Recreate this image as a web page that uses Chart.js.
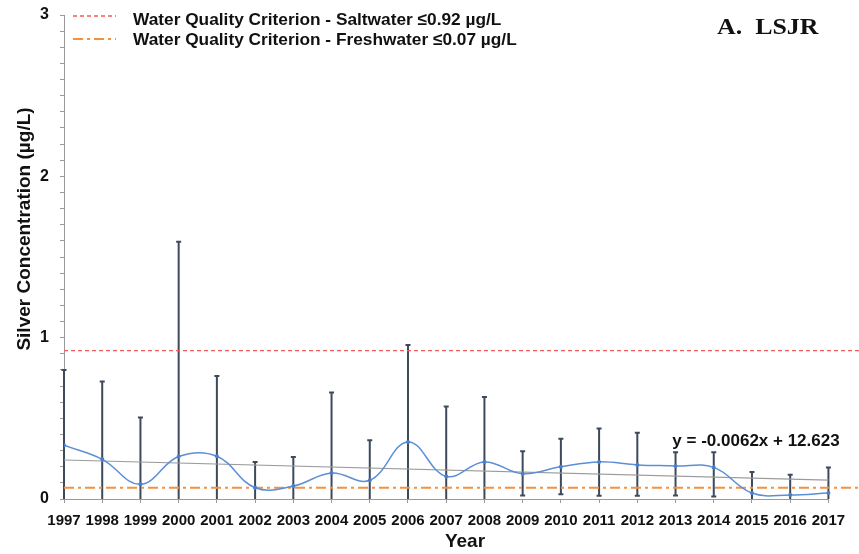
<!DOCTYPE html>
<html>
<head>
<meta charset="utf-8">
<script src="https://cdn.jsdelivr.net/npm/chart.js@4"></script>
<style>
  html, body { margin: 0; padding: 0; background: #fff; }
  canvas { display: block; }
</style>
</head>
<body>
<canvas id="chart" width="859" height="554"></canvas>
<script>
// Annual silver concentrations, Lower St. Johns River (µg/L)
const years = [1997, 1998, 1999, 2000, 2001, 2002, 2003, 2004, 2005, 2006, 2007,
               2008, 2009, 2010, 2011, 2012, 2013, 2014, 2015, 2016, 2017];
const meanConc = [0.333, 0.246, 0.091, 0.263, 0.265, 0.070, 0.080, 0.161, 0.116, 0.354, 0.140,
                  0.230, 0.157, 0.200, 0.230, 0.211, 0.205, 0.196, 0.037, 0.025, 0.037];
const errUpper = [0.800, 0.729, 0.505, 1.594, 0.762, 0.230, 0.261, 0.660, 0.364, 0.954, 0.573,
                  0.633, 0.296, 0.373, 0.437, 0.410, 0.290, 0.290, 0.168, 0.151, 0.196];
const errLower = [0, 0, 0, 0, 0, 0, 0, 0, 0, 0, 0,
                  0, 0.022, 0.029, 0.020, 0.020, 0.022, 0.016, 0, 0, 0];

// Criteria and linear trend
const saltCriterion = 0.92;
const freshCriterion = 0.07;
const trendSlope = -0.0062;
const trendIntercept = 12.623;

const yTickLabels = ['0', '1', '2', '3'];
const legendLabels = [
  'Water Quality Criterion - Saltwater \u22640.92 \u00b5g/L',
  'Water Quality Criterion - Freshwater \u22640.07 \u00b5g/L'
];
const panelTitle = 'A.  LSJR';
const yTitle = 'Silver Concentration (\u00b5g/L)';
const xTitle = 'Year';
const trendLabel = 'y = -0.0062x + 12.623';

const SANS = '"Liberation Sans", Arial, sans-serif';
const X_MAX = 2017.8;

const firstYear = years[0];
const lastYear = years[years.length - 1];

const saltStyle = { color: '#ef5b5b', width: 1.3, dash: [4, 3] };
const freshStyle = { color: '#f4913f', width: 2, dash: [10, 4, 3, 4] };

// Vertical error bars drawn beneath the mean line
const errorBars = {
  id: 'errorBars',
  beforeDatasetsDraw(chart) {
    const { ctx, scales: { x, y } } = chart;
    ctx.save();
    ctx.strokeStyle = '#3c4a5c';
    ctx.lineWidth = 2;
    years.forEach((yr, i) => {
      const px = x.getPixelForValue(yr);
      const top = y.getPixelForValue(errUpper[i]);
      const bot = y.getPixelForValue(errLower[i]);
      ctx.beginPath();
      ctx.moveTo(px, bot);
      ctx.lineTo(px, top);
      ctx.moveTo(px - 2.5, top);
      ctx.lineTo(px + 2.5, top);
      if (errLower[i] > 0) {
        ctx.moveTo(px - 2.5, bot);
        ctx.lineTo(px + 2.5, bot);
      }
      ctx.stroke();
    });
    ctx.restore();
  }
};

// Horizontal axis line spanning the year range only
const yearAxisLine = {
  id: 'yearAxisLine',
  beforeDatasetsDraw(chart) {
    const { ctx, scales: { x, y } } = chart;
    const py = Math.round(y.getPixelForValue(0)) + 0.5;
    ctx.save();
    ctx.strokeStyle = '#9a9a9a';
    ctx.lineWidth = 1;
    ctx.beginPath();
    ctx.moveTo(x.getPixelForValue(firstYear), py);
    ctx.lineTo(x.getPixelForValue(lastYear), py);
    ctx.stroke();
    ctx.restore();
  }
};

// Legend, panel title, axis titles and trend equation
const annotations = {
  id: 'annotations',
  afterDraw(chart) {
    const { ctx } = chart;
    ctx.save();
    ctx.fillStyle = '#111';

    // legend
    const rows = [
      { style: saltStyle, lineY: 16, baseY: 25, text: legendLabels[0] },
      { style: freshStyle, lineY: 39, baseY: 45, text: legendLabels[1] }
    ];
    rows.forEach(r => {
      ctx.save();
      ctx.strokeStyle = r.style.color;
      ctx.lineWidth = r.style.width;
      ctx.setLineDash(r.style.dash);
      ctx.beginPath();
      ctx.moveTo(73, r.lineY);
      ctx.lineTo(116, r.lineY);
      ctx.stroke();
      ctx.restore();
      ctx.font = 'bold 17.3px ' + SANS;
      ctx.textAlign = 'left';
      ctx.textBaseline = 'alphabetic';
      ctx.fillText(r.text, 133, r.baseY);
    });

    // panel title
    ctx.save();
    ctx.font = 'bold 24px "Liberation Serif", "DejaVu Serif", serif';
    ctx.textAlign = 'left';
    ctx.translate(717, 34);
    ctx.scale(1.08, 1);
    ctx.fillText(panelTitle, 0, 0);
    ctx.restore();

    // trend equation
    ctx.font = 'bold 17px ' + SANS;
    ctx.textAlign = 'center';
    ctx.textBaseline = 'middle';
    ctx.fillText(trendLabel, 756, 441);

    // x axis title
    ctx.font = 'bold 19px ' + SANS;
    ctx.textAlign = 'center';
    ctx.textBaseline = 'alphabetic';
    ctx.fillText(xTitle, 465, 547);

    // y axis title
    ctx.translate(25, 229);
    ctx.rotate(-Math.PI / 2);
    ctx.textAlign = 'center';
    ctx.textBaseline = 'middle';
    ctx.fillText(yTitle, 0, 0);
    ctx.restore();
  }
};

const pts = (vals) => years.map((yr, i) => ({ x: yr, y: vals[i] }));

new Chart(document.getElementById('chart'), {
  type: 'line',
  data: {
    datasets: [
      {
        label: 'Mean',
        data: pts(meanConc),
        borderColor: '#5b8fd6',
        borderWidth: 1.5,
        backgroundColor: '#4a7fd0',
        pointRadius: 2,
        pointHoverRadius: 0,
        pointBorderWidth: 0,
        pointBackgroundColor: '#4a7fd0',
        tension: 0.4,
        order: 1
      },
      {
        label: 'Trend',
        data: [
          { x: firstYear, y: trendSlope * firstYear + trendIntercept },
          { x: lastYear, y: trendSlope * lastYear + trendIntercept }
        ],
        borderColor: '#9b9b9b',
        borderWidth: 1.2,
        pointRadius: 0,
        order: 2
      },
      {
        label: legendLabels[0],
        data: [{ x: firstYear, y: saltCriterion }, { x: X_MAX, y: saltCriterion }],
        borderColor: saltStyle.color,
        borderWidth: saltStyle.width,
        borderDash: saltStyle.dash,
        pointRadius: 0,
        order: 3
      },
      {
        label: legendLabels[1],
        data: [{ x: firstYear, y: freshCriterion }, { x: X_MAX, y: freshCriterion }],
        borderColor: freshStyle.color,
        borderWidth: freshStyle.width,
        borderDash: freshStyle.dash,
        pointRadius: 0,
        order: 3
      }
    ]
  },
  options: {
    responsive: false,
    animation: false,
    devicePixelRatio: 1,
    layout: { autoPadding: false, padding: { top: 15, right: 0, left: 0, bottom: 0 } },
    plugins: {
      legend: { display: false },
      tooltip: { enabled: false }
    },
    scales: {
      x: {
        type: 'linear',
        min: firstYear,
        max: X_MAX,
        afterFit: (s) => {
          s.height = 55;
          s.paddingLeft = 0;
          s.paddingRight = 0;
        },
        border: { display: false },
        grid: {
          display: true,
          drawOnChartArea: false,
          drawTicks: true,
          tickLength: 4,
          color: '#9a9a9a'
        },
        ticks: {
          stepSize: 1,
          includeBounds: false,
          autoSkip: false,
          maxRotation: 0,
          padding: 9,
          color: '#111',
          font: { family: SANS, size: 15, weight: 'bold' },
          callback: (v) => String(v)
        }
      },
      y: {
        type: 'linear',
        min: 0,
        max: 3,
        afterFit: (s) => {
          s.width = 64;
          s.paddingTop = 0;
          s.paddingBottom = 0;
        },
        border: { display: true, color: '#9a9a9a', width: 1 },
        grid: {
          display: true,
          drawOnChartArea: false,
          drawTicks: true,
          tickLength: 4,
          color: '#9a9a9a'
        },
        ticks: {
          stepSize: 0.1,
          autoSkip: false,
          padding: 11,
          color: '#111',
          font: { family: SANS, size: 16, weight: 'bold' },
          callback: (v) => {
            const r = Math.round(v);
            return Math.abs(v - r) < 1e-6 ? yTickLabels[r] : '';
          }
        }
      }
    }
  },
  plugins: [errorBars, yearAxisLine, annotations]
});
</script>
</body>
</html>
